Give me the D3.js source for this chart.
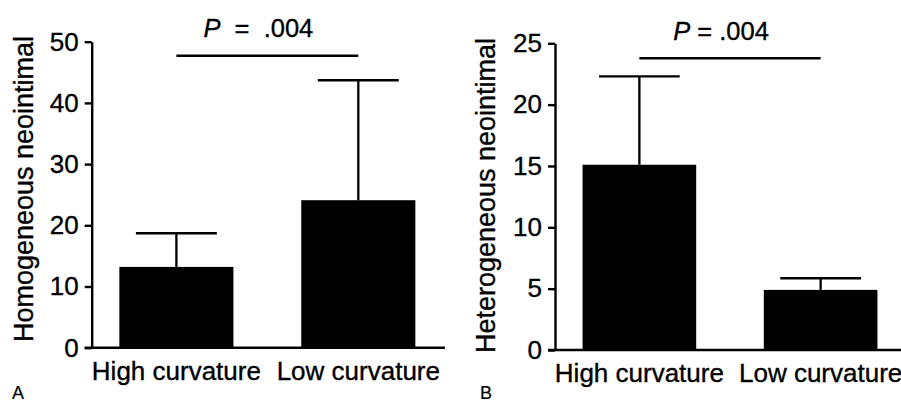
<!DOCTYPE html>
<html>
<head>
<meta charset="utf-8">
<script src="https://cdn.jsdelivr.net/npm/d3@7"></script>
<style>
  body { margin: 0; background: #fff; }
  text { font-family: "Liberation Sans", Arial, sans-serif; fill: #000; stroke: #000; stroke-width: 0.35px; }
</style>
</head>
<body>
<div id="chart"></div>
<script>
// Data
const categories = ['High curvature', 'Low curvature'];
const homoMean = [13.2, 24.1];
const homoErr = [5.5, 19.6];
const heteroMean = [15.1, 4.9];
const heteroErr = [7.2, 0.95];
const homoTicks = [0, 10, 20, 30, 40, 50];
const heteroTicks = [0, 5, 10, 15, 20, 25];
const pValue = '.004';

const svg = d3.select('#chart')
  .append('svg')
  .attr('width', 901)
  .attr('height', 404);

function drawPanel(cfg) {
  const g = svg.append('g');

  // scales
  const x = d3.scaleBand()
    .domain(categories)
    .range([cfg.left, cfg.right])
    .paddingInner(0.373)
    .paddingOuter(0.152);
  const y = d3.scaleLinear()
    .domain([0, d3.max(cfg.ticks)])
    .range([cfg.bottom, cfg.top]);
  const bw = x.bandwidth();
  const cx = d => x(d) + bw / 2;

  const rows = categories.map((c, i) => ({cat: c, mean: cfg.mean[i], err: cfg.err[i]}));

  // bars
  g.selectAll('.bar')
    .data(rows)
    .enter()
    .append('rect')
    .attr('class', 'bar')
    .attr('x', d => x(d.cat))
    .attr('y', d => y(d.mean))
    .attr('width', bw)
    .attr('height', d => y(0) - y(d.mean))
    .attr('fill', '#000');

  // error bars (upper only)
  g.selectAll('.err')
    .data(rows)
    .enter()
    .append('line')
    .attr('x1', d => cx(d.cat))
    .attr('x2', d => cx(d.cat))
    .attr('y1', d => y(d.mean))
    .attr('y2', d => y(d.mean + d.err))
    .attr('stroke', '#000')
    .attr('stroke-width', 2.3);
  g.selectAll('.cap')
    .data(rows)
    .enter()
    .append('line')
    .attr('x1', d => cx(d.cat) - bw * 0.355)
    .attr('x2', d => cx(d.cat) + bw * 0.355)
    .attr('y1', d => y(d.mean + d.err))
    .attr('y2', d => y(d.mean + d.err))
    .attr('stroke', '#000')
    .attr('stroke-width', 2.3);

  // y axis
  const yAxis = g.append('g')
    .attr('transform', `translate(${cfg.left},0)`)
    .call(d3.axisLeft(y).tickValues(cfg.ticks).tickSize(7).tickSizeOuter(0).tickPadding(6));
  yAxis.selectAll('path, line').attr('stroke', '#000').attr('stroke-width', 2.4);
  yAxis.selectAll('text').attr('font-size', 26).attr('fill', '#000')
    .style('font-family', '"Liberation Sans", Arial, sans-serif');

  // x axis line (extends a bit left of the y axis)
  g.append('line')
    .attr('x1', cfg.left - 7)
    .attr('x2', cfg.right + 2)
    .attr('y1', y(0))
    .attr('y2', y(0))
    .attr('stroke', '#000')
    .attr('stroke-width', 2.4);

  // category labels
  g.selectAll('.xlab')
    .data(categories)
    .enter()
    .append('text')
    .attr('x', d => cx(d))
    .attr('y', cfg.xLabelY)
    .attr('text-anchor', 'middle')
    .attr('font-size', 26)
    .text(d => d);

  // y label
  g.append('text')
    .attr('transform', `translate(${cfg.yLabelX},${cfg.yLabelY}) rotate(-90)`)
    .attr('text-anchor', 'middle')
    .attr('font-size', 27)
    .text(cfg.yLabel);

  // significance bracket
  const c0 = cx(categories[0]), c1 = cx(categories[1]);
  g.append('line')
    .attr('x1', c0)
    .attr('x2', c1)
    .attr('y1', cfg.sigY)
    .attr('y2', cfg.sigY)
    .attr('stroke', '#000')
    .attr('stroke-width', 2.6);
  const pt = g.append('text')
    .attr('x', (c0 + c1) / 2 - 9)
    .attr('y', cfg.pY)
    .attr('text-anchor', 'middle')
    .attr('font-size', 25.5)
    .style('white-space', 'pre');
  pt.append('tspan').attr('font-style', 'italic').text('P');
  pt.append('tspan').text(cfg.pSep + '=' + cfg.pSep + pValue);

  // panel letter
  g.append('text')
    .attr('x', cfg.letterX)
    .attr('y', 399)
    .attr('font-size', 18)
    .style('stroke-width', '0.2px')
    .text(cfg.letter);
}

drawPanel({
  mean: homoMean, err: homoErr, ticks: homoTicks,
  left: 91.7, right: 443, top: 41.7, bottom: 347.7,
  xLabelY: 380, yLabel: 'Homogeneous neointimal', yLabelX: 33, yLabelY: 189,
  sigY: 55.7, pY: 36.7, pSep: '  ', letter: 'A', letterX: 12
});

drawPanel({
  mean: heteroMean, err: heteroErr, ticks: heteroTicks,
  left: 555, right: 905, top: 43.3, bottom: 350,
  xLabelY: 382, yLabel: 'Heterogeneous neointimal', yLabelX: 495, yLabelY: 195.5,
  sigY: 58.3, pY: 40, pSep: ' ', letter: 'B', letterX: 480
});
</script>
</body>
</html>
